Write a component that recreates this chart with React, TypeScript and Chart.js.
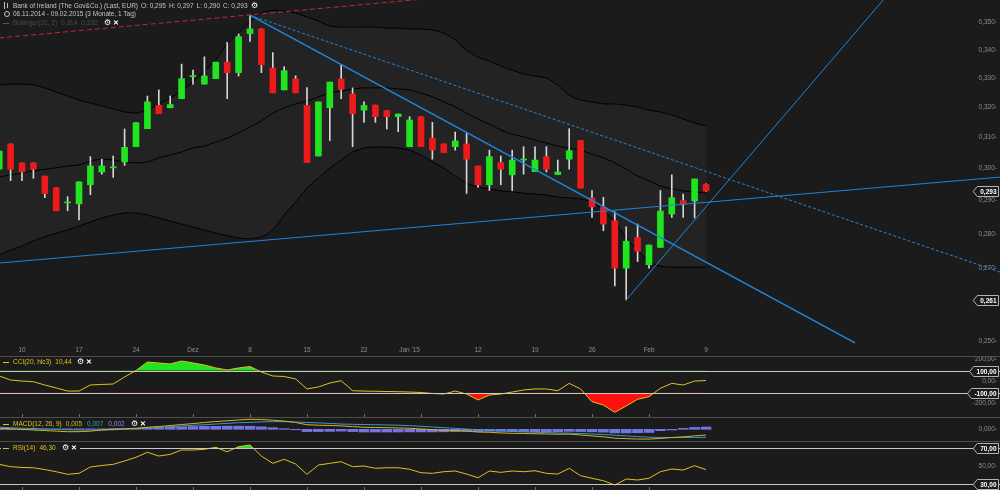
import React, { useEffect, useRef } from 'react';
import { Chart, registerables } from 'chart.js';

Chart.register(...registerables);

const BG = '#1b1b1b';
const FONT = '"Liberation Sans", Arial, sans-serif';
const AXIS_COLOR = '#8e8e8e';
const GREEN = '#1fe41f';
const RED = '#ec1a1a';
const WICK = '#d6d6d6';
const BLUE = '#1f86dc';
const YELLOW = '#e0c21e';

// trading days 06.11.2014 .. 09.02.2015 (index 0..62)
const OPEN = [0.2998,0.3079,0.3018,0.3018,0.2976,0.2940,0.2893,0.2890,0.2949,0.2989,0.3002,0.3021,0.3070,0.3129,0.3207,0.3199,0.3230,0.3306,0.3280,0.3299,0.3357,0.3320,0.3460,0.3477,0.3336,0.3260,0.3298,0.3207,0.3040,0.3199,0.3298,0.3246,0.3191,0.3208,0.3189,0.3169,0.3070,0.3169,0.3098,0.3079,0.3070,0.3079,0.3008,0.2949,0.3019,0.2980,0.3027,0.2990,0.3038,0.2981,0.3030,0.3090,0.2908,0.2880,0.2839,0.2700,0.2789,0.2710,0.2760,0.2859,0.2900,0.2899,0.2950];
const HIGH = [0.3056,0.3079,0.3018,0.3018,0.2976,0.2940,0.2912,0.2958,0.3038,0.3030,0.3040,0.3128,0.3149,0.3239,0.3260,0.3239,0.3350,0.3329,0.3376,0.3357,0.3428,0.3459,0.3528,0.3477,0.3391,0.3341,0.3309,0.3268,0.3219,0.3287,0.3347,0.3267,0.3219,0.3208,0.3189,0.3178,0.3169,0.3169,0.3150,0.3079,0.3118,0.3114,0.3008,0.3059,0.3040,0.3059,0.3070,0.3070,0.3070,0.3027,0.3129,0.3090,0.2931,0.2910,0.2866,0.2821,0.2829,0.2767,0.2931,0.2980,0.2920,0.2967,0.2952];
const LOW = [0.2998,0.2962,0.2962,0.2969,0.2909,0.2869,0.2869,0.2841,0.2918,0.2982,0.2972,0.3010,0.3070,0.3129,0.3179,0.3199,0.3230,0.3280,0.3280,0.3299,0.3230,0.3308,0.3431,0.3320,0.3250,0.3260,0.3250,0.3019,0.3040,0.3090,0.3230,0.3070,0.3150,0.3150,0.3128,0.3119,0.3070,0.3070,0.3030,0.3051,0.3059,0.2922,0.2941,0.2931,0.2949,0.2931,0.2982,0.2990,0.2989,0.2981,0.2998,0.2939,0.2849,0.2809,0.2650,0.2611,0.2719,0.2700,0.2760,0.2849,0.2849,0.2847,0.2928];
const CLOSE = [0.3056,0.2998,0.2989,0.2998,0.2922,0.2869,0.2894,0.2958,0.3008,0.3008,0.3003,0.3068,0.3149,0.3219,0.3179,0.3210,0.3299,0.3307,0.3308,0.3357,0.3320,0.3449,0.3477,0.3348,0.3250,0.3327,0.3250,0.3019,0.3219,0.3287,0.3262,0.3179,0.3207,0.3169,0.3169,0.3178,0.3158,0.3070,0.3059,0.3051,0.3089,0.3030,0.2949,0.3038,0.2998,0.3027,0.3028,0.3027,0.2998,0.2989,0.3057,0.2939,0.2881,0.2829,0.2700,0.2778,0.2749,0.2767,0.2868,0.2909,0.2890,0.2967,0.2930];

const BB_UPPER = [0.3277,0.3280,0.3280,0.3277,0.3267,0.3253,0.3239,0.3225,0.3215,0.3205,0.3195,0.3185,0.3181,0.3191,0.3212,0.3232,0.3256,0.3287,0.3326,0.3365,0.3422,0.3462,0.3503,0.3536,0.3547,0.3543,0.3536,0.3521,0.3506,0.3488,0.3484,0.3484,0.3484,0.3484,0.3480,0.3480,0.3477,0.3477,0.3473,0.3462,0.3437,0.3400,0.3375,0.3361,0.3343,0.3329,0.3315,0.3308,0.3301,0.3277,0.3242,0.3225,0.3219,0.3212,0.3212,0.3208,0.3202,0.3191,0.3185,0.3175,0.3161,0.3148,0.3138];
const BB_MIDDLE = [0.2973,0.2980,0.2986,0.2992,0.2998,0.3002,0.3008,0.3011,0.3024,0.3030,0.3027,0.3021,0.3018,0.3021,0.3034,0.3043,0.3053,0.3066,0.3072,0.3085,0.3098,0.3115,0.3134,0.3155,0.3181,0.3198,0.3212,0.3222,0.3236,0.3249,0.3256,0.3263,0.3267,0.3267,0.3267,0.3263,0.3260,0.3249,0.3236,0.3219,0.3202,0.3181,0.3161,0.3144,0.3125,0.3111,0.3102,0.3092,0.3082,0.3072,0.3066,0.3059,0.3046,0.3034,0.3018,0.2998,0.2976,0.2961,0.2945,0.2936,0.2930,0.2927,0.2923];
const BB_LOWER = [0.2738,0.2752,0.2764,0.2779,0.2791,0.2802,0.2811,0.2823,0.2835,0.2847,0.2856,0.2862,0.2862,0.2856,0.2847,0.2838,0.2829,0.2820,0.2811,0.2802,0.2794,0.2788,0.2785,0.2791,0.2811,0.2856,0.2896,0.2939,0.2970,0.3002,0.3027,0.3053,0.3066,0.3069,0.3069,0.3066,0.3059,0.3043,0.3021,0.3002,0.2976,0.2954,0.2942,0.2936,0.2930,0.2927,0.2923,0.2920,0.2917,0.2911,0.2908,0.2905,0.2896,0.2871,0.2835,0.2788,0.2752,0.2718,0.2706,0.2703,0.2703,0.2703,0.2703];

const CCI = [52,15,6,0,-30,-57,-85,-85,-30,-25,-21,43,102,179,170,161,188,170,152,125,106,125,138,88,52,47,25,-66,-48,-12,9,-82,-85,-87,-89,-91,-94,-98,-107,-112,-85,-112,-166,-121,-112,-94,-75,-66,-66,-82,-15,-66,-182,-212,-278,-221,-160,-136,-60,-15,-30,6,10.44];

const MACD_LINE = [0.0009,0.0005,0.0000,-0.0006,-0.0011,-0.0016,-0.0021,-0.0021,-0.0016,-0.0006,0.0000,0.0005,0.0009,0.0018,0.0024,0.0033,0.0042,0.0050,0.0060,0.0068,0.0075,0.0082,0.0088,0.0086,0.0080,0.0072,0.0060,0.0040,0.0036,0.0034,0.0030,0.0024,0.0018,0.0016,0.0014,0.0012,0.0009,0.0003,-0.0003,-0.0008,-0.0012,-0.0016,-0.0024,-0.0026,-0.0032,-0.0035,-0.0037,-0.0039,-0.0041,-0.0043,-0.0042,-0.0050,-0.0058,-0.0066,-0.0078,-0.0082,-0.0085,-0.0086,-0.0080,-0.0072,-0.0066,-0.0058,-0.0050];
const MACD_SIGNAL = [0.0018,0.0014,0.0010,0.0007,0.0003,0.0000,-0.0004,-0.0006,-0.0007,-0.0006,-0.0004,0.0000,0.0007,0.0012,0.0017,0.0023,0.0029,0.0035,0.0040,0.0046,0.0052,0.0058,0.0061,0.0065,0.0067,0.0067,0.0064,0.0060,0.0056,0.0052,0.0046,0.0044,0.0042,0.0040,0.0038,0.0036,0.0032,0.0026,0.0020,0.0014,0.0008,0.0002,-0.0004,-0.0009,-0.0014,-0.0019,-0.0023,-0.0026,-0.0029,-0.0032,-0.0034,-0.0037,-0.0041,-0.0046,-0.0052,-0.0058,-0.0064,-0.0069,-0.0072,-0.0073,-0.0072,-0.0071,-0.0070];
const MACD_HIST = [-0.0003,-0.0003,-0.0003,0.0003,0.0003,0.0003,0.0004,0.0004,0.0004,0.0004,0.0006,0.0006,0.0008,0.0012,0.0014,0.0018,0.0022,0.0024,0.0026,0.0026,0.0028,0.0028,0.0027,0.0022,0.0014,0.0006,-0.0004,-0.0020,-0.0020,-0.0018,-0.0016,-0.0020,-0.0024,-0.0024,-0.0024,-0.0024,-0.0023,-0.0023,-0.0023,-0.0022,-0.0020,-0.0018,-0.0020,-0.0017,-0.0018,-0.0020,-0.0020,-0.0021,-0.0021,-0.0021,-0.0018,-0.0020,-0.0022,-0.0025,-0.0032,-0.0032,-0.0030,-0.0028,-0.0012,-0.0006,0.0008,0.0016,0.0020];

const RSI = [52.2,49.6,48.7,48.4,46.4,44.0,41.1,42.2,49.2,50.9,52.2,55.9,60.0,65.6,61.4,63.3,68.1,68.1,68.9,71.1,66.2,71.8,73.7,61.4,53.3,57.8,52.6,41.1,51.4,53.3,55.1,49.6,50.3,47.8,48.4,48.4,46.7,42.9,42.2,44.0,44.8,41.4,37.3,44.8,43.3,44.8,44.0,45.1,42.2,41.4,47.8,39.6,36.7,34.0,29.2,35.9,34.8,36.7,44.0,47.0,45.9,50.7,46.3];

const X_TICKS = [2, 7, 12, 17, 22, 27, 32, 36, 42, 47, 52, 57, 62];
const X_TICK_LABELS = ['10', '17', '24', 'Dez', '8', '15', '22', "Jan '15", '12', '19', '26', 'Feb', '9'];
const WEEK_MARKS = [2, 7, 12, 17, 22, 27, 32, 37, 42, 47, 52, 57];
const PRICE_TICKS = [0.25, 0.27, 0.28, 0.29, 0.30, 0.31, 0.32, 0.33, 0.34, 0.35];
const CCI_TICKS = [200, 0, -200];
const CCI_LEVELS = [100, -100];
const MACD_TICKS = [0];
const RSI_TICKS = [50];
const RSI_LEVELS = [70, 30];
const LAST_CLOSE = 0.293;
const LOW_MARK = 0.261;

// drawing-tool lines: [index, price] endpoints
const TREND_RED: number[][] = [[0, 0.3444], [37, 0.3588]];
const TREND_MAIN: number[][] = [[22, 0.3528], [75.07, 0.2495]];
const TREND_DOTTED: number[][] = [[22, 0.3528], [87.79, 0.2689]];
const TREND_RISE: number[][] = [[0.07, 0.2715], [87.79, 0.2973]];
const TREND_LOW: number[][] = [[55, 0.2611], [78, 0.3608]];

const X_MIN = 0.07;
const X_MAX = 87.79;
const Y_MIN = 0.24921;
const Y_MAX = 0.3585;

const fmt = (v: number, d: number) => v.toFixed(d).replace('.', ',');
const idx = OPEN.map((_, i) => i);
const pts = (arr: number[]) => arr.map((v, i) => ({ x: i, y: v }));

function drawBox(ctx: any, y: number, text: string, right: number) {
  ctx.font = `bold 6.5px ${FONT}`;
  const w = ctx.measureText(text).width + 5;
  const h = 10;
  const x1 = right - w;
  const x0 = x1 - 4;
  ctx.beginPath();
  ctx.moveTo(x0, y);
  ctx.lineTo(x1, y - h / 2);
  ctx.lineTo(right, y - h / 2);
  ctx.lineTo(right, y + h / 2);
  ctx.lineTo(x1, y + h / 2);
  ctx.closePath();
  ctx.fillStyle = BG;
  ctx.fill();
  ctx.strokeStyle = '#b4b4b4';
  ctx.lineWidth = 1;
  ctx.stroke();
  ctx.fillStyle = '#ffffff';
  ctx.textAlign = 'right';
  ctx.textBaseline = 'middle';
  ctx.fillText(text, right - 2, y + 0.5);
}

const decorPlugin = {
  id: 'decor',
  afterDraw(chart: any, _args: any, o: any) {
    const { ctx, scales, width, height } = chart;
    const y = scales.y;
    const x = scales.x;
    ctx.save();
    (o.hlines || []).forEach((v: number) => {
      const py = Math.round(y.getPixelForValue(v)) + 0.5;
      ctx.strokeStyle = '#c8c8c8';
      ctx.lineWidth = 1;
      ctx.beginPath();
      ctx.moveTo(0, py);
      ctx.lineTo(width, py);
      ctx.stroke();
    });
    if (o.topLine) {
      ctx.strokeStyle = '#4c4c4c';
      ctx.lineWidth = 1;
      ctx.beginPath();
      ctx.moveTo(0, 0.5);
      ctx.lineTo(width, 0.5);
      ctx.stroke();
    }
    (o.marks || []).forEach((m: number) => {
      const px = Math.round(x.getPixelForValue(m)) + 0.5;
      ctx.strokeStyle = '#6c6c6c';
      ctx.lineWidth = 1;
      ctx.beginPath();
      ctx.moveTo(px, height - 3);
      ctx.lineTo(px, height);
      ctx.stroke();
    });
    (o.boxes || []).forEach((b: any) => drawBox(ctx, Math.round(y.getPixelForValue(b.value)) + 0.5, b.text, width - 1.5));
    ctx.restore();
  },
};

const yAxis = (extra: any, ticks: number[], decimals: number) => ({
  position: 'right',
  bounds: 'data',
  grid: { display: false, drawTicks: false },
  border: { display: false },
  ticks: {
    mirror: true,
    padding: -3,
    color: AXIS_COLOR,
    font: { size: 6.5, family: FONT },
    callback: (v: number) => fmt(Number(v), decimals) + '-',
  },
  afterBuildTicks: (s: any) => { s.ticks = ticks.map((v) => ({ value: v })); },
  afterFit: (s: any) => { s.width = 0; s.paddingTop = 0; s.paddingBottom = 0; },
  ...extra,
});

const hiddenX = { type: 'linear', min: X_MIN, max: X_MAX, offset: false, bounds: 'data', display: false };

const baseOpts = (decor: any) => ({
  responsive: false,
  animation: false,
  devicePixelRatio: 1,
  layout: { padding: 0 },
  plugins: { legend: { display: false }, tooltip: { enabled: false }, decor },
});

const trend = (p: number[][], color: string, width: number, dash: number[] = []) => ({
  type: 'line',
  data: p.map(([x, y]) => ({ x, y })),
  borderColor: color,
  borderWidth: width,
  borderDash: dash,
  pointRadius: 0,
  fill: false,
  order: 0,
});

function mainConfig() {
  const datasets: any[] = [
    trend(TREND_RED, '#c8262c', 1, [5, 3]),
    trend(TREND_MAIN, BLUE, 1.6),
    trend(TREND_DOTTED, BLUE, 1, [3, 2]),
    trend(TREND_RISE, BLUE, 1),
    trend(TREND_LOW, BLUE, 1),
    {
      type: 'bar',
      data: idx.map((i) => ({ x: i, y: [OPEN[i], CLOSE[i]] })),
      backgroundColor: idx.map((i) => (CLOSE[i] >= OPEN[i] ? GREEN : RED)),
      grouped: false, barPercentage: 1, categoryPercentage: 1, maxBarThickness: 6, minBarLength: 1,
      order: 1,
    },
    {
      type: 'bar',
      data: idx.map((i) => ({ x: i, y: [LOW[i], HIGH[i]] })),
      backgroundColor: WICK,
      grouped: false, barPercentage: 1, categoryPercentage: 1, maxBarThickness: 1,
      order: 2,
    },
    { type: 'line', data: pts(BB_MIDDLE), borderColor: '#000', borderWidth: 1, pointRadius: 0, fill: false, order: 3, tension: 0.2 },
    { type: 'line', data: pts(BB_LOWER), borderColor: '#000', borderWidth: 1, pointRadius: 0, fill: false, order: 3, tension: 0.2 },
  ];
  const lowerIndex = datasets.length - 1;
  datasets.push({
    type: 'line', data: pts(BB_UPPER), borderColor: '#000', borderWidth: 1, pointRadius: 0, tension: 0.2,
    fill: lowerIndex, backgroundColor: 'rgba(255,255,255,0.035)', order: 4,
  });
  return {
    type: 'line',
    data: { datasets },
    plugins: [decorPlugin],
    options: {
      ...baseOpts({ boxes: [{ value: LAST_CLOSE, text: fmt(LAST_CLOSE, 3) }, { value: LOW_MARK, text: fmt(LOW_MARK, 3) }] }),
      scales: {
        x: {
          type: 'linear', min: X_MIN, max: X_MAX, offset: false, bounds: 'data', position: 'bottom',
          grid: { display: false, drawTicks: false },
          border: { display: false },
          ticks: {
            color: AXIS_COLOR, font: { size: 6.5, family: FONT }, padding: 2,
            autoSkip: false, maxRotation: 0, minRotation: 0,
            callback: (_v: any, i: number) => X_TICK_LABELS[i],
          },
          afterBuildTicks: (s: any) => { s.ticks = X_TICKS.map((v) => ({ value: v })); },
          afterFit: (s: any) => { s.height = 12; s.paddingLeft = 0; s.paddingRight = 0; },
        },
        y: yAxis({ type: 'logarithmic', min: Y_MIN, max: Y_MAX }, PRICE_TICKS, 3),
      },
    },
  };
}

function cciConfig() {
  return {
    type: 'line',
    data: {
      datasets: [
        { data: pts(CCI), borderColor: YELLOW, borderWidth: 1, pointRadius: 0, order: 0,
          fill: { target: { value: 100 }, above: GREEN, below: 'rgba(0,0,0,0)' } },
        { data: pts(CCI), borderColor: 'rgba(0,0,0,0)', borderWidth: 0, pointRadius: 0, order: 1,
          fill: { target: { value: -100 }, above: 'rgba(0,0,0,0)', below: '#ff1010' } },
      ],
    },
    plugins: [decorPlugin],
    options: {
      ...baseOpts({ topLine: true, hlines: CCI_LEVELS, marks: WEEK_MARKS, boxes: CCI_LEVELS.map((v) => ({ value: v, text: fmt(v, 2) })) }),
      scales: { x: hiddenX, y: yAxis({ type: 'linear', min: -320.9, max: 233.6 }, CCI_TICKS, 2) },
    },
  };
}

function macdConfig() {
  return {
    type: 'line',
    data: {
      datasets: [
        { type: 'line', data: pts(MACD_LINE), borderColor: '#d9b12c', borderWidth: 1, pointRadius: 0, fill: false, order: 0 },
        { type: 'line', data: pts(MACD_SIGNAL), borderColor: '#3a9dbd', borderWidth: 1, pointRadius: 0, fill: false, order: 1 },
        { type: 'bar', data: pts(MACD_HIST), backgroundColor: '#7474e4', grouped: false, barPercentage: 1, categoryPercentage: 1, maxBarThickness: 10, order: 2 },
      ],
    },
    plugins: [decorPlugin],
    options: {
      ...baseOpts({ topLine: true }),
      scales: { x: hiddenX, y: yAxis({ type: 'linear', min: -0.01026, max: 0.01079 }, MACD_TICKS, 3) },
    },
  };
}

function rsiConfig() {
  return {
    type: 'line',
    data: {
      datasets: [
        { data: pts(RSI), borderColor: YELLOW, borderWidth: 1, pointRadius: 0, order: 0,
          fill: { target: { value: 70 }, above: GREEN, below: 'rgba(0,0,0,0)' } },
        { data: pts(RSI), borderColor: 'rgba(0,0,0,0)', borderWidth: 0, pointRadius: 0, order: 1,
          fill: { target: { value: 30 }, above: 'rgba(0,0,0,0)', below: '#ff1010' } },
      ],
    },
    plugins: [decorPlugin],
    options: {
      ...baseOpts({ topLine: true, hlines: RSI_LEVELS, marks: WEEK_MARKS, boxes: RSI_LEVELS.map((v) => ({ value: v, text: fmt(v, 2) })) }),
      scales: { x: hiddenX, y: yAxis({ type: 'linear', min: 23.7, max: 78.1 }, RSI_TICKS, 2) },
    },
  };
}

function Panel({ top, height, make }: { top: number; height: number; make: () => any }) {
  const ref = useRef<HTMLCanvasElement | null>(null);
  useEffect(() => {
    const chart = new Chart(ref.current as HTMLCanvasElement, make());
    return () => chart.destroy();
  }, []);
  return (
    <canvas
      ref={ref}
      width={1000}
      height={height}
      style={{ position: 'absolute', left: 0, top, width: 1000, height, display: 'block' }}
    />
  );
}

// a row of label pieces flowing left to right
function Row({ x, y, bg, children }: any) {
  return (
    <div
      style={{
        position: 'absolute', left: x, top: y - 4, height: 8, lineHeight: '8px', display: 'flex',
        alignItems: 'center', whiteSpace: 'pre', fontFamily: FONT, fontSize: 6.5, background: bg,
      }}
    >
      {children}
    </div>
  );
}

function S({ c = '#c4c4c4', s, bold = false, ml = 0, children }: any) {
  return (
    <span style={{ color: c, fontSize: s, fontWeight: bold ? 'bold' : 'normal', marginLeft: ml }}>{children}</span>
  );
}

function Dash({ c }: any) {
  return <span style={{ display: 'inline-block', width: 6, height: 1, background: c, marginRight: 4 }} />;
}

function Icons({ ml = 5 }: any) {
  return (
    <>
      <S c="#ffffff" s={8} ml={ml}>⚙</S>
      <S c="#ffffff" s={7} bold ml={2}>✕</S>
    </>
  );
}

export default function App() {
  return (
    <div style={{ position: 'fixed', left: 0, top: 0, width: 1000, height: 490, background: BG, overflow: 'hidden' }}>
      <Panel top={0} height={356} make={mainConfig} />
      <Panel top={356} height={61} make={cciConfig} />
      <Panel top={417} height={24} make={macdConfig} />
      <Panel top={441} height={49} make={rsiConfig} />

      {/* header */}
      <div style={{ position: 'absolute', left: 4, top: 2, width: 1, height: 7, background: '#bdbdbd' }} />
      <div style={{ position: 'absolute', left: 7, top: 3, width: 1, height: 5, background: '#bdbdbd' }} />
      <Row x={13} y={5.5}>
        <S>Bank of Ireland (The Gov&amp;Co.) (Last, EUR)</S>
        <S ml={3}>O: 0,295</S>
        <S ml={3}>H: 0,297</S>
        <S ml={3}>L: 0,290</S>
        <S ml={3}>C: 0,293</S>
        <S c="#ffffff" s={8} ml={3}>⚙</S>
      </Row>
      <div style={{ position: 'absolute', left: 4, top: 11, width: 4, height: 4, border: '1px solid #c4c4c4', borderRadius: '50%' }} />
      <Row x={13} y={14}>
        <S>06.11.2014 - 09.02.2015 (3 Monate, 1 Tag)</S>
      </Row>
      <Row x={3} y={23}>
        <Dash c="#5a5a5a" />
        <S c="#4a4a4a">Bollinger(20, 2)</S>
        <S c="#4a4a4a" ml={4}>0,314</S>
        <S c="#4a4a4a" ml={4}>0,292</S>
        <Icons ml={6} />
      </Row>

      {/* CCI */}
      <Row x={3} y={362}>
        <Dash c={YELLOW} />
        <S c={YELLOW}>CCI(20, hlc3)</S>
        <S c={YELLOW} ml={4}>10,44</S>
        <Icons ml={5} />
      </Row>

      {/* MACD */}
      <Row x={3} y={424}>
        <Dash c={YELLOW} />
        <S c={YELLOW}>MACD(12, 26, 9)</S>
        <S c="#d9b12c" ml={4}>0,005</S>
        <S c="#3a9dbd" ml={5}>0,007</S>
        <S c="#8a8af0" ml={5}>0,002</S>
        <Icons ml={6} />
      </Row>

      {/* RSI */}
      <Row x={1} y={448} bg={BG}>
        <span style={{ width: 2 }} />
        <Dash c={YELLOW} />
        <S c={YELLOW}>RSI(14)</S>
        <S c={YELLOW} ml={4}>46,30</S>
        <Icons ml={6} />
        <span style={{ width: 3 }} />
      </Row>
    </div>
  );
}
